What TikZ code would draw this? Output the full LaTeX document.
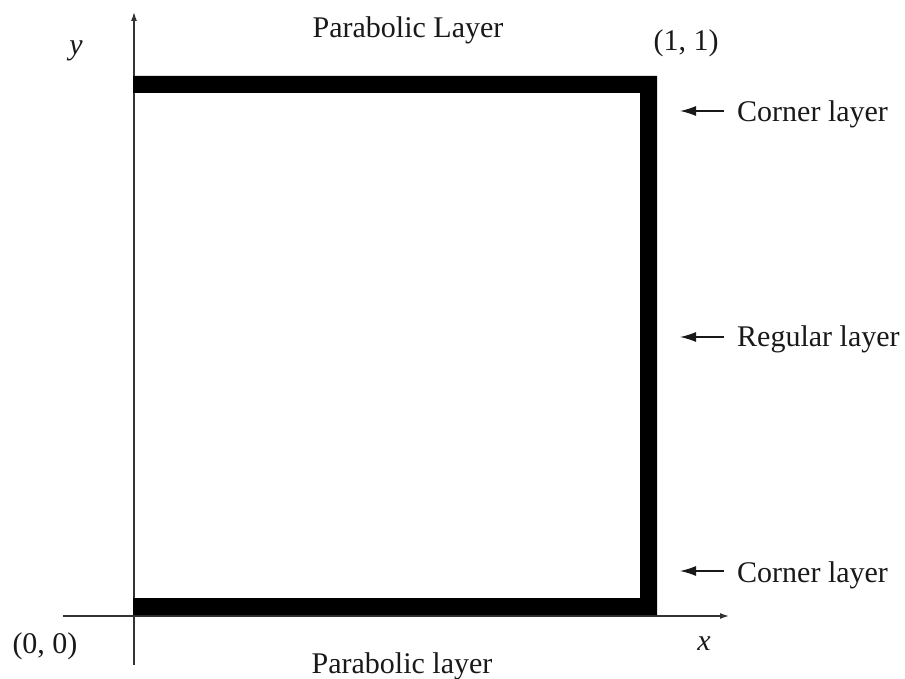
\documentclass[tikz,border=0pt]{standalone}
\usepackage{fontspec}
\setmainfont{Liberation Serif}
\usetikzlibrary{arrows.meta}
\begin{document}
\begin{tikzpicture}[x=1pt,y=-1pt,
  lbl/.style={inner sep=0pt,font=\fontsize{30}{36}\selectfont,text=black!90},
  axis/.style={line width=1.3pt,draw=black!80,-{Latex[length=9pt,width=6pt]}},
  ptr/.style={line width=1.3pt,draw=black!90,-{Latex[length=16pt,width=10pt]},shorten <=13pt},
  bar/.style={fill=black}]
\useasboundingbox (0,0) rectangle (905,679);
% axes
\coordinate (ybot) at (134,665);
\coordinate (ytop) at (134,12);
\coordinate (xl) at (63,616);
\coordinate (xr) at (729,616);
\draw[axis] (ybot) -- (ytop);
\draw[axis] (xl) -- (xr);
% thick layers
\fill[bar] (133,76) -- (657,76) -- (657,615) -- (133,615) -- (133,598) -- (640,598) -- (640,93) -- (133,93) -- cycle;
% labels
\node[lbl,anchor=base] (yl) at (76,55) {\itshape y};
\node[lbl,anchor=base] (xlab) at (704,650) {\itshape x};
\node[lbl,anchor=base] (ptop) at (408,38) {Parabolic Layer};
\node[lbl,anchor=base] (pbot) at (402,673) {Parabolic layer};
\node[lbl,anchor=base] (p11) at (686,51) {(1, 1)};
\node[lbl,anchor=base] (p00) at (45,653) {(0, 0)};
\node[lbl,anchor=base west] (c1) at (737,122) {Corner layer};
\node[lbl,anchor=base west] (rl) at (737,346) {Regular layer};
\node[lbl,anchor=base west] (c2) at (737,582) {Corner layer};
% pointer tips
\coordinate (t1) at (680,111);
\coordinate (t2) at (680,337);
\coordinate (t3) at (680,571);
\draw[ptr] (c1.west |- t1) -- (t1);
\draw[ptr] (rl.west |- t2) -- (t2);
\draw[ptr] (c2.west |- t3) -- (t3);
\end{tikzpicture}
\end{document}
